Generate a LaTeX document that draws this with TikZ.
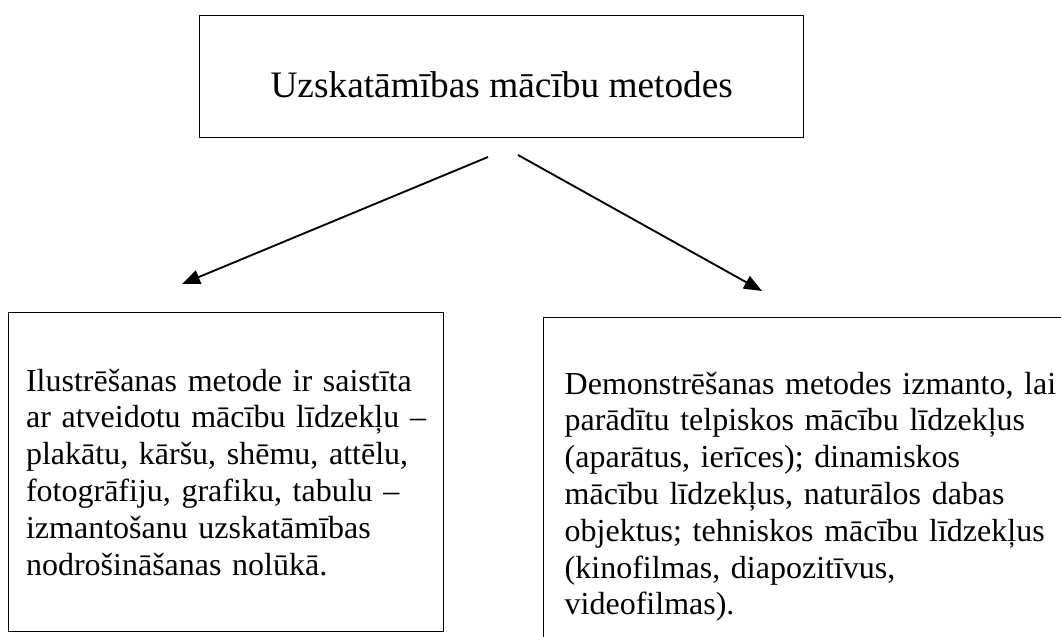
\documentclass[tikz,border=0pt]{standalone}
\usepackage{fontspec}
\setmainfont{Liberation Serif}
\usetikzlibrary{arrows.meta}
\begin{document}
\begin{tikzpicture}[x=0.375pt,y=-0.375pt,
	box/.style={draw,line width=0.55pt,anchor=north west,align=left,font=\fontsize{12}{13.8}\selectfont},
	link/.style={line width=0.7pt,-{Triangle[length=6.75pt,width=5.25pt]}}]
	\useasboundingbox (0,0) rectangle (1061,636);
	%
	\node[box,align=center,font=\fontsize{14}{16}\selectfont,minimum width=226.5pt,minimum height=45.75pt,text height=15.75pt,text depth=0pt] (metodes) at (199,15) {Uzskatāmības mācību metodes};
	\node[box,text width=150pt,inner xsep=6.5pt,minimum height=119.6pt] (ilustr) at (8,312) {Ilustrēšanas metode ir saistīta\\ar atveidotu mācību līdzekļu –\\plakātu, kāršu, shēmu, attēlu,\\fotogrāfiju, grafiku, tabulu –\\izmantošanu uzskatāmības\\nodrošināšanas nolūkā.};
	\node[box,text width=189pt,inner xsep=7.875pt,minimum height=134.25pt] (demonstr) at (543,317) {Demonstrēšanas metodes izmanto, lai\\parādītu telpiskos mācību līdzekļus\\(aparātus, ierīces); dinamiskos\\mācību līdzekļus, naturālos dabas\\objektus; tehniskos mācību līdzekļus\\(kinofilmas, diapozitīvus,\\videofilmas).};
	%
	\coordinate (l0) at (488,157);
	\coordinate (l1) at (182,284);
	\coordinate (r0) at (518,155);
	\coordinate (r1) at (762,291);
	%
	\draw[link] (l0) -- (l1);
	\draw[link] (r0) -- (r1);
\end{tikzpicture}
\end{document}
